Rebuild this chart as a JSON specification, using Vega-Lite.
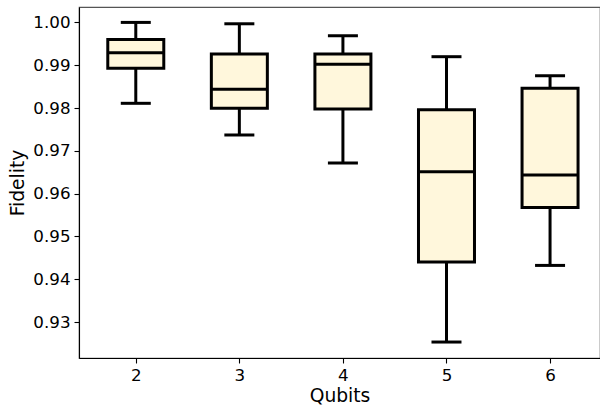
{
  "$schema": "https://vega.github.io/schema/vega-lite/v6.json",
  "width": 521,
  "height": 351,
  "autosize": {"type": "none"},
  "padding": {"left": 79, "top": 7, "right": 0, "bottom": 48},
  "background": "white",
  "config": {
    "font": "DejaVu Sans",
    "view": {"stroke": "#555", "strokeWidth": 1.2},
    "axis": {
      "labelFont": "DejaVu Sans",
      "titleFont": "DejaVu Sans",
      "labelFontSize": 16.7,
      "titleFontSize": 18.7,
      "titleFontWeight": "normal",
      "labelColor": "#000",
      "titleColor": "#000",
      "domainColor": "#000",
      "domainWidth": 1.1,
      "tickColor": "#000",
      "tickWidth": 1.1,
      "tickSize": 5,
      "labelPadding": 4,
      "grid": false
    }
  },
  "data": {
    "values": [
      {"q": 2, "lo": 0.9811, "q1": 0.98927, "med": 0.99291, "q3": 0.99603, "hi": 1.0},
      {"q": 3, "lo": 0.9737, "q1": 0.97993, "med": 0.98437, "q3": 0.9926, "hi": 0.99968},
      {"q": 4, "lo": 0.96717, "q1": 0.97977, "med": 0.9902, "q3": 0.9926, "hi": 0.99687},
      {"q": 5, "lo": 0.92533, "q1": 0.944, "med": 0.96514, "q3": 0.97961, "hi": 0.99199},
      {"q": 6, "lo": 0.94323, "q1": 0.95674, "med": 0.96437, "q3": 0.9846, "hi": 0.98754}
    ]
  },
  "encoding": {
    "x": {
      "field": "q",
      "type": "quantitative",
      "title": "Qubits",
      "scale": {"domain": [1.5, 6.434], "nice": false, "zero": false},
      "axis": {"values": [2, 3, 4, 5, 6], "format": "d", "titlePadding": 3}
    }
  },
  "layer": [
    {
      "mark": {"type": "rule", "color": "#000", "strokeWidth": 3},
      "encoding": {
        "y": {
          "field": "lo",
          "type": "quantitative",
          "title": "Fidelity",
          "scale": {"domain": [0.9216, 1.0036], "nice": false, "zero": false},
          "axis": {"values": [0.93, 0.94, 0.95, 0.96, 0.97, 0.98, 0.99, 1.0], "format": ".2f", "titlePadding": 5}
        },
        "y2": {"field": "q1"}
      }
    },
    {
      "mark": {"type": "rule", "color": "#000", "strokeWidth": 3},
      "encoding": {
        "y": {"field": "q3", "type": "quantitative"},
        "y2": {"field": "hi"}
      }
    },
    {
      "mark": {"type": "bar", "size": 56, "fill": "#FFF7DC", "stroke": "#000", "strokeWidth": 3},
      "encoding": {
        "y": {"field": "q1", "type": "quantitative"},
        "y2": {"field": "q3"}
      }
    },
    {
      "mark": {"type": "tick", "orient": "horizontal", "size": 56, "thickness": 3, "color": "#000", "opacity": 1},
      "encoding": {"y": {"field": "med", "type": "quantitative"}}
    },
    {
      "mark": {"type": "tick", "orient": "horizontal", "size": 30, "thickness": 3, "color": "#000", "opacity": 1},
      "encoding": {"y": {"field": "lo", "type": "quantitative"}}
    },
    {
      "mark": {"type": "tick", "orient": "horizontal", "size": 30, "thickness": 3, "color": "#000", "opacity": 1},
      "encoding": {"y": {"field": "hi", "type": "quantitative"}}
    }
  ]
}
